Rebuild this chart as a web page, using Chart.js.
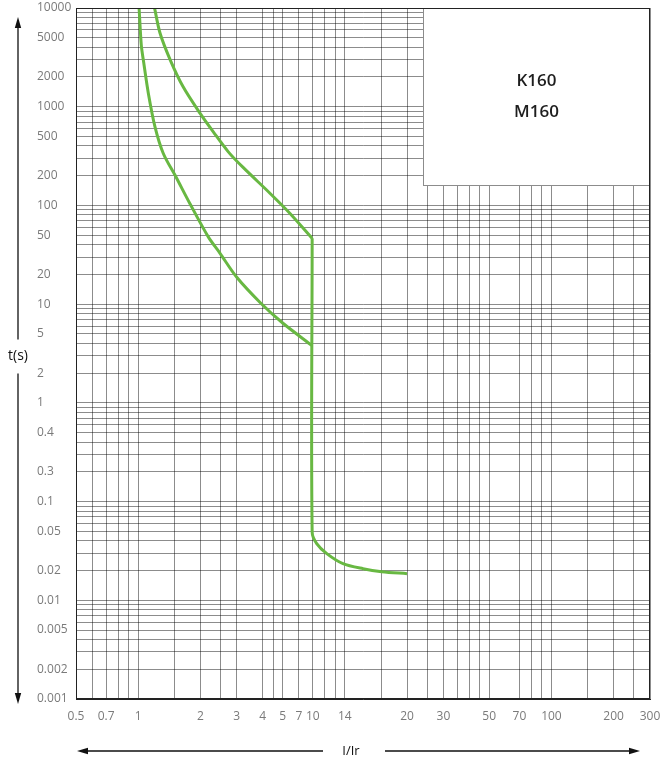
<!DOCTYPE html>
<html>
<head>
<meta charset="utf-8">
<script src="https://cdn.jsdelivr.net/npm/chart.js@4"></script>
<style>
html, body { margin: 0; padding: 0; background: #fff; }
</style>
</head>
<body>
<canvas id="trip-curve" width="667" height="758"></canvas>
<script>
// trip curves: multiples of Ir and seconds
var upperX = [1.20, 1.275, 1.43, 1.65, 1.99, 2.31, 2.73, 3.21, 4.34, 5.43, 6.95];
var upperT = [10000, 5580, 2970, 1590, 861, 556, 349, 244, 133, 83, 46.5];
var lowerX = [1.01, 1.035, 1.059, 1.12, 1.206, 1.323, 1.524, 1.781, 2.184, 2.49, 3.0, 3.89, 5.02, 6.95];
var lowerT = [10000, 4200, 2969, 1364, 625, 336, 194, 104, 48, 32.7, 18.7, 10.4, 6.4, 3.8];
var tripX = [6.95, 6.95, 7.31, 8.18, 9.8, 12.25, 15.1, 20];
var tripT = [46.5, 0.0489, 0.0375, 0.0297, 0.0235, 0.0209, 0.0195, 0.0186];

var seriesNames = ['K160', 'M160'];

var xTickValues = [0.5, 0.7, 1, 2, 3, 4, 5, 6, 7, 10, 20, 30, 50, 70, 100, 200, 300];
var xTickLabels = ['0.5', '0.7', '1', '2', '3', '4', '5', '7', '10', '14', '20', '30', '50', '70', '100', '200', '300'];
var xGridValues = [0.5, 0.6, 0.7, 0.8, 0.9, 1, 1.5, 2, 2.5, 3, 4, 4.5, 5, 6, 7, 8, 9, 10, 15, 20, 25, 30, 35, 40, 45, 50, 70, 80, 90, 100, 150, 200, 250, 300];

var yTickValues = [10000, 5000, 2000, 1000, 500, 200, 100, 50, 20, 10, 5, 2, 1, 0.5, 0.2, 0.1, 0.05, 0.02, 0.01, 0.005, 0.002, 0.001];
var yTickLabels = ['10000', '5000', '2000', '1000', '500', '200', '100', '50', '20', '10', '5', '2', '1', '0.4', '0.3', '0.1', '0.05', '0.02', '0.01', '0.005', '0.002', '0.001'];

// y grid: every 1..9 step of each decade
var yGridValues = [10000];
for (var e = -3; e < 4; e++) {
    for (var m = 1; m < 10; m++) {
        yGridValues.push(m * Math.pow(10, e));
    }
}

function toPoints(xs, ts) {
    return xs.map(function (x, i) { return { x: x, y: ts[i] }; });
}

function labelFor(values, labels, v) {
    for (var i = 0; i < values.length; i++) {
        if (Math.abs(values[i] / v - 1) < 1e-6) return labels[i];
    }
    return '';
}

var green = 'rgb(104,184,66)';
var tickFont = { family: '"Open Sans"', size: 12 };

function curve(points, tension) {
    return {
        data: points,
        borderColor: green,
        borderWidth: 3,
        pointRadius: 0,
        fill: false,
        tension: tension
    };
}

function arrowHead(ctx, x, y, dx, dy) {
    var len = 11, half = 3.2;
    ctx.beginPath();
    ctx.moveTo(x, y);
    ctx.lineTo(x - dx * len - dy * half, y - dy * len - dx * half);
    ctx.lineTo(x - dx * len + dy * half, y - dy * len + dx * half);
    ctx.closePath();
    ctx.fill();
}

var decorations = {
    id: 'decorations',
    afterDatasetsDraw: function (chart) {
        var ctx = chart.ctx, a = chart.chartArea;
        ctx.save();

        // name box, top right
        var bw = 227, bh = 177, bx = a.right - bw, by = a.top;
        ctx.fillStyle = '#fff';
        ctx.fillRect(bx, by, bw, bh);
        ctx.strokeStyle = '#8c8c8c';
        ctx.lineWidth = 1;
        ctx.strokeRect(bx + 0.5, by + 0.5, bw, bh);
        ctx.fillStyle = '#1e1e1e';
        ctx.font = '600 17px "Open Sans"';
        ctx.textAlign = 'center';
        ctx.textBaseline = 'middle';
        ctx.fillText(seriesNames[0], bx + bw / 2, by + 73);
        ctx.fillText(seriesNames[1], bx + bw / 2, by + 104);

        // frame
        ctx.strokeStyle = '#222';
        ctx.strokeRect(a.left + 0.5, a.top + 0.5, a.right - a.left - 1, a.bottom - a.top - 1);

        // axis arrows
        ctx.fillStyle = '#111';
        ctx.strokeStyle = '#111';
        ctx.lineWidth = 1.3;
        var ax = 18, mid = (a.top + a.bottom) / 2 + 3;
        ctx.beginPath();
        ctx.moveTo(ax, 26); ctx.lineTo(ax, mid - 17);
        ctx.moveTo(ax, mid + 17); ctx.lineTo(ax, a.bottom - 4);
        ctx.stroke();
        arrowHead(ctx, ax, 17, 0, -1);
        arrowHead(ctx, ax, a.bottom + 5, 0, 1);
        ctx.font = '14px "Open Sans"';
        ctx.fillText('t(s)', ax, mid);

        var ay = 751;
        ctx.beginPath();
        ctx.moveTo(a.left + 9, ay); ctx.lineTo(323, ay);
        ctx.moveTo(385, ay); ctx.lineTo(631, ay);
        ctx.stroke();
        arrowHead(ctx, a.left + 1, ay, -1, 0);
        arrowHead(ctx, 640, ay, 1, 0);
        ctx.font = '13px "Open Sans"';
        ctx.fillText('I/Ir', 351, ay);

        ctx.restore();
    }
};

var canvas = document.getElementById('trip-curve').getContext('2d');
var tripChart = new Chart(canvas, {
    type: 'line',
    data: {
        datasets: [
            curve(toPoints(upperX, upperT), 0.3),
            curve(toPoints(lowerX, lowerT), 0.3),
            curve(toPoints(tripX, tripT), 0.3)
        ]
    },
    options: {
        responsive: false,
        animation: false,
        layout: { padding: { left: 37, top: 8, right: 17, bottom: 0 } },
        plugins: { legend: { display: false }, tooltip: { enabled: false } },
        scales: {
            x: {
                type: 'logarithmic',
                min: 0.5,
                max: 300,
                afterBuildTicks: function (scale) {
                    scale.ticks = xGridValues.map(function (v) { return { value: v }; });
                },
                afterFit: function (scale) {
                    scale.height = 59;
                    scale.paddingLeft = 0;
                    scale.paddingRight = 0;
                },
                grid: { color: 'rgba(0,0,0,0.45)', drawTicks: false },
                border: { color: '#222', width: 1 },
                ticks: {
                    autoSkip: false,
                    maxRotation: 0,
                    padding: 10,
                    color: '#7a7a7a',
                    font: tickFont,
                    callback: function (v) { return labelFor(xTickValues, xTickLabels, v); }
                }
            },
            y: {
                type: 'logarithmic',
                min: 0.001,
                max: 10000,
                afterBuildTicks: function (scale) {
                    scale.ticks = yGridValues.map(function (v) { return { value: v }; });
                },
                afterFit: function (scale) {
                    scale.width = 39;
                    scale.paddingTop = 0;
                    scale.paddingBottom = 0;
                },
                grid: { color: 'rgba(0,0,0,0.45)', drawTicks: false },
                border: { color: '#222', width: 1 },
                ticks: {
                    autoSkip: false,
                    crossAlign: 'far',
                    padding: 6,
                    color: '#7a7a7a',
                    font: tickFont,
                    callback: function (v) { return labelFor(yTickValues, yTickLabels, v); }
                }
            }
        }
    },
    plugins: [decorations]
});
</script>
</body>
</html>
